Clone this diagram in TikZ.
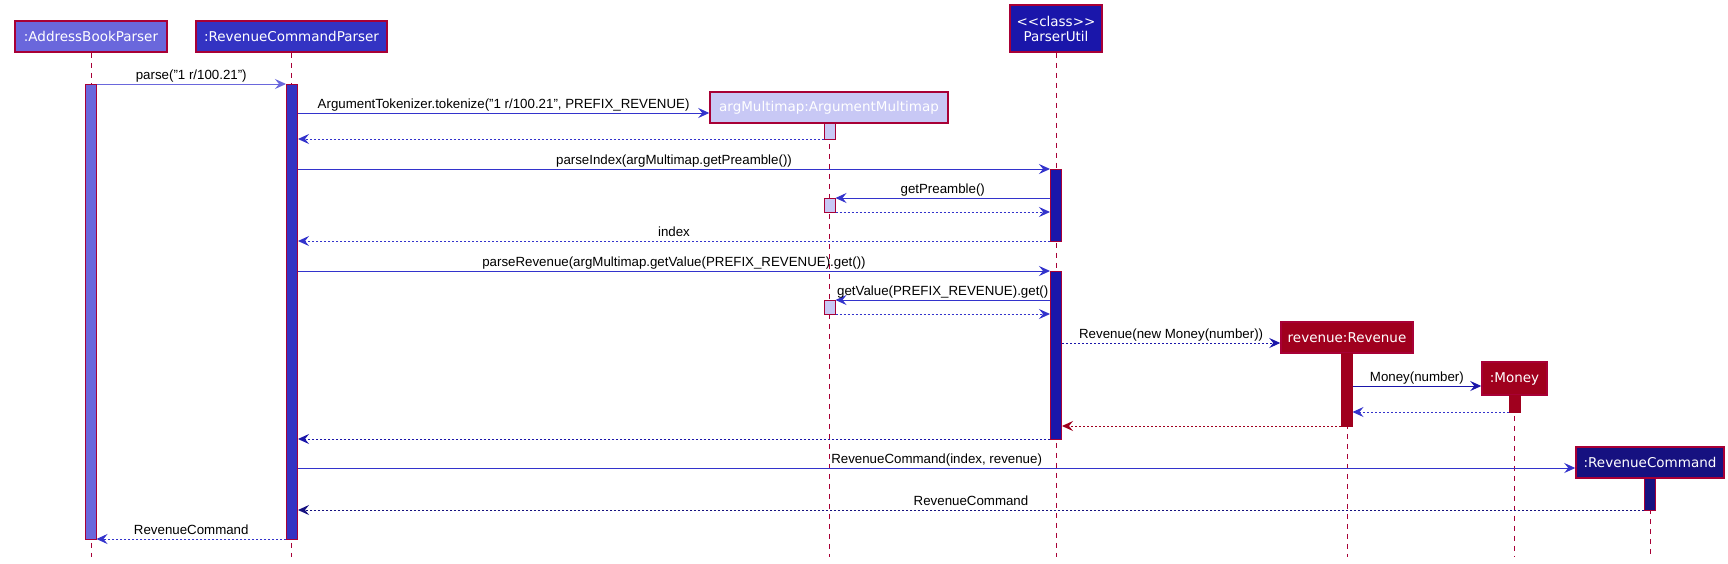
\documentclass[tikz,border=0pt]{standalone}
\usepackage{fontspec}
\setmainfont{Liberation Sans}
\newfontfamily\titlefont{DejaVu Sans}
\usetikzlibrary{arrows.meta}
\definecolor{bordc}{RGB}{168,0,54}
\definecolor{abpc}{RGB}{106,103,220}
\definecolor{rcpc}{RGB}{51,51,195}
\definecolor{puc}{RGB}{26,22,170}
\definecolor{amc}{RGB}{200,200,245}
\definecolor{revc}{RGB}{160,0,30}
\definecolor{rcc}{RGB}{22,17,128}
\definecolor{arrc}{RGB}{51,51,204}
\begin{document}
\begin{tikzpicture}[x=1pt,y=-1pt,
  box/.style={draw=bordc, line width=1.5pt, text=white, font=\titlefont\fontsize{13.5}{15}\selectfont, inner sep=0pt, minimum height=31pt, align=center},
  act/.style={draw=bordc, line width=1pt, minimum width=11pt, inner sep=0pt},
  lifeline/.style={draw=bordc, line width=1pt, dash pattern=on 5pt off 5pt},
  call/.style={-{Stealth[length=11pt,width=10pt,inset=4pt]}, line width=1pt},
  ret/.style={call, dash pattern=on 2pt off 2pt},
  lbl/.style={anchor=base, yshift=4.5pt, font=\fontsize{13.3}{15}\selectfont, text=black, inner sep=0pt}]
\useasboundingbox[fill=white] (0,0) rectangle (1728,563);
\coordinate (bot) at (0,557);
% participants
\node[box, fill=abpc, minimum width=152pt] (abp) at (91,36.5) {:AddressBookParser};
\node[box, fill=rcpc, minimum width=191pt] (rcp) at (291.5,36.5) {:RevenueCommandParser};
\node[box, fill=puc, minimum width=92pt, minimum height=47pt] (pu) at (1056,28.5) {<\kern0pt<class>\kern0pt>\\ParserUtil};
\node[box, fill=amc, minimum width=238pt] (am) at (829,107.5) {argMultimap:ArgumentMultimap};
\node[box, fill=revc, minimum width=132pt] (rev) at (1347,337.5) {revenue:Revenue};
\node[box, fill=revc, minimum width=65pt, minimum height=33pt] (mon) at (1514.5,378.5) {:Money};
\node[box, fill=rcc, minimum width=148pt] (rc) at (1650,462.5) {:RevenueCommand};
% lifelines
\foreach \p in {abp,rcp,pu,am,rev,mon,rc}{
  \draw[lifeline] (\p.south) -- (\p.south |- bot);
}
% activations
\node[act, fill=abpc, minimum height=455pt] (abpA) at (90.5,311.5) {};
\node[act, fill=rcpc, minimum height=455pt] (rcpA) at (292,311.5) {};
\node[act, fill=amc, minimum height=16pt] (amA1) at (829.5,131) {};
\node[act, fill=amc, minimum height=14pt] (amA2) at (829.5,205) {};
\node[act, fill=amc, minimum height=14pt] (amA3) at (829.5,307) {};
\node[act, fill=puc, minimum height=72pt] (puA1) at (1056,205) {};
\node[act, fill=puc, minimum height=168pt] (puA2) at (1056,355) {};
\node[act, fill=revc, draw=revc, minimum height=73pt] (revA) at (1346.5,389.5) {};
\node[act, fill=revc, draw=revc, minimum height=17pt] (monA) at (1514.5,403.5) {};
\node[act, fill=rcc, minimum height=32pt] (rcA) at (1650,494) {};
% message levels
\coordinate (y1) at (0,84);
\coordinate (y2) at (0,113);
\coordinate (y3) at (0,139);
\coordinate (y4) at (0,169);
\coordinate (y5) at (0,198);
\coordinate (y6) at (0,212);
\coordinate (y7) at (0,241);
\coordinate (y8) at (0,271);
\coordinate (y9) at (0,300);
\coordinate (y10) at (0,314);
\coordinate (y11) at (0,343);
\coordinate (y12) at (0,386);
\coordinate (y13) at (0,412);
\coordinate (y14) at (0,426);
\coordinate (y15) at (0,439);
\coordinate (y16) at (0,468);
\coordinate (y17) at (0,510);
\coordinate (y18) at (0,539);
% messages
\draw[call, color=abpc] (abpA.east |- y1) -- node[lbl]{parse("1 r/100.21")} (rcpA.west |- y1);
\draw[call, color=arrc] (rcpA.east |- y2) -- node[lbl]{ArgumentTokenizer.tokenize("1 r/100.21", PREFIX\_REVENUE)} (am.west |- y2);
\draw[ret, color=arrc] (amA1.west |- y3) -- (rcpA.east |- y3);
\draw[call, color=arrc] (rcpA.east |- y4) -- node[lbl]{parseIndex(argMultimap.getPreamble())} (puA1.west |- y4);
\draw[call, color=arrc] (puA1.west |- y5) -- node[lbl]{getPreamble()} (amA2.east |- y5);
\draw[ret, color=arrc] (amA2.east |- y6) -- (puA1.west |- y6);
\draw[ret, color=arrc] (puA1.west |- y7) -- node[lbl]{index} (rcpA.east |- y7);
\draw[call, color=arrc] (rcpA.east |- y8) -- node[lbl]{parseRevenue(argMultimap.getValue(PREFIX\_REVENUE).get())} (puA2.west |- y8);
\draw[call, color=arrc] (puA2.west |- y9) -- node[lbl]{getValue(PREFIX\_REVENUE).get()} (amA3.east |- y9);
\draw[ret, color=arrc] (amA3.east |- y10) -- (puA2.west |- y10);
\draw[ret, color=puc] (puA2.east |- y11) -- node[lbl]{Revenue(new Money(number))} (rev.west |- y11);
\draw[call, color=puc] (revA.east |- y12) -- node[lbl]{Money(number)} (mon.west |- y12);
\draw[ret, color=arrc] (monA.west |- y13) -- (revA.east |- y13);
\draw[ret, color=revc] (revA.west |- y14) -- (puA2.east |- y14);
\draw[ret, color=puc] (puA2.west |- y15) -- (rcpA.east |- y15);
\draw[call, color=arrc] (rcpA.east |- y16) -- node[lbl]{RevenueCommand(index, revenue)} (rc.west |- y16);
\draw[ret, color=rcc] (rcA.west |- y17) -- node[lbl]{RevenueCommand} (rcpA.east |- y17);
\draw[ret, color=arrc] (rcpA.west |- y18) -- node[lbl]{RevenueCommand} (abpA.east |- y18);
\end{tikzpicture}
\end{document}
